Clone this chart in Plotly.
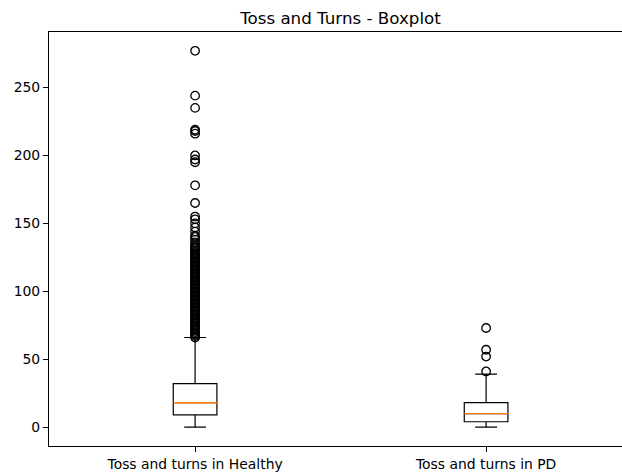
import plotly.graph_objects as go

# Groups and their box statistics
groups = ["Toss and turns in Healthy", "Toss and turns in PD"]
positions = [1, 2]
q1_vals = [9, 4]
median_vals = [18, 10]
q3_vals = [32, 18]
lower_whisker = [0, 0]
upper_whisker = [66, 39]

# Points beyond the whiskers
healthy_outliers = [
    66, 67, 68, 69, 70, 71, 72, 73, 74, 75, 76, 77, 78, 79, 80, 81, 82, 83,
    84, 85, 86, 87, 88, 89, 90, 91, 92, 93, 94, 95, 96, 97, 98, 99, 100, 101,
    102, 103, 104, 105, 106, 107, 108, 109, 110, 111, 112, 113, 114, 115, 116,
    117, 118, 119, 120, 121, 122, 123, 124, 125, 126, 127, 128, 129, 130, 131,
    132, 133, 134, 136, 138, 140, 141, 144, 147, 150, 153, 155, 165, 178, 195,
    197, 200, 216, 218, 219, 235, 244, 277,
]
pd_outliers = [41, 52, 57, 73]

y_ticks = [0, 50, 100, 150, 200, 250]

FONT = "DejaVu Sans"
BOX_HALF = 0.075

fig = go.Figure()

for i, pos in enumerate(positions):
    fig.add_trace(go.Box(
        x=[pos], q1=[q1_vals[i]], median=[median_vals[i]], q3=[q3_vals[i]],
        lowerfence=[lower_whisker[i]], upperfence=[upper_whisker[i]],
        width=2 * BOX_HALF, whiskerwidth=0.5,
        line=dict(color="black", width=1.2),
        fillcolor="rgba(0,0,0,0)", boxpoints=False,
        showlegend=False, hoverinfo="skip",
    ))
    # orange median line on top of the box
    fig.add_trace(go.Scatter(
        x=[pos - BOX_HALF, pos + BOX_HALF],
        y=[median_vals[i], median_vals[i]],
        mode="lines", line=dict(color="#ff7f0e", width=1.4),
        showlegend=False, hoverinfo="skip",
    ))

for pos, pts in zip(positions, [healthy_outliers, pd_outliers]):
    fig.add_trace(go.Scatter(
        x=[pos] * len(pts), y=pts, mode="markers",
        marker=dict(symbol="circle-open", size=8.5, color="black",
                    line=dict(width=1.3, color="black")),
        showlegend=False, hoverinfo="skip",
    ))

fig.update_layout(
    width=622, height=473,
    margin=dict(l=49, r=0, t=32, b=27),
    paper_bgcolor="white", plot_bgcolor="white",
    font=dict(family=FONT, size=14, color="black"),
    title=dict(text="Toss and Turns - Boxplot", x=0.5087, xref="paper",
               xanchor="center", y=1 - 18 / 473, yref="container",
               yanchor="middle", font=dict(family=FONT, size=16.7, color="black")),
)

fig.update_xaxes(
    range=[0.498, 2.467], tickvals=positions, ticktext=groups,
    showline=True, linecolor="black", linewidth=1.1, mirror=True,
    ticks="outside", ticklen=5, tickwidth=1.1, tickcolor="black",
    showgrid=False, zeroline=False, tickfont=dict(family=FONT, size=13.9),
)
fig.update_yaxes(
    range=[-13.85, 290.85], tickvals=y_ticks,
    showline=True, linecolor="black", linewidth=1.1, mirror=False,
    ticks="outside", ticklen=5, tickwidth=1.1, tickcolor="black",
    showgrid=False, zeroline=False, tickfont=dict(family=FONT, size=13.9),
)

fig.write_html("out.html")
